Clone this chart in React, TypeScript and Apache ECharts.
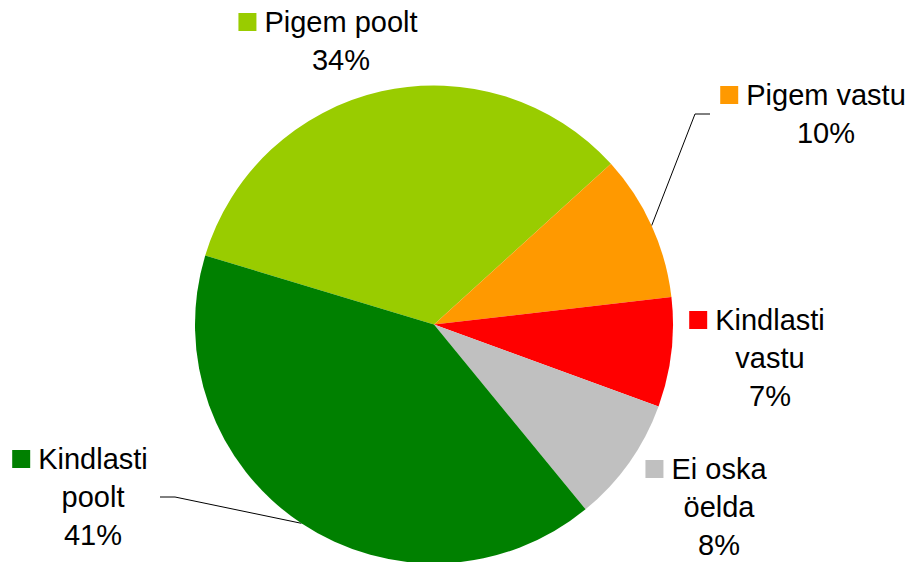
import { useEffect, useRef } from 'react';
import * as echarts from 'echarts';

const categories = ['Pigem poolt', 'Pigem vastu', 'Kindlasti vastu', 'Ei oska öelda', 'Kindlasti poolt'];
const labelLines = [['Pigem poolt'], ['Pigem vastu'], ['Kindlasti', 'vastu'], ['Ei oska', 'öelda'], ['Kindlasti', 'poolt']];
const values = [33.6, 9.9, 7.4, 8.5, 40.6];
const colors = ['#99CC00', '#FF9900', '#FF0000', '#C0C0C0', '#008000'];
const hasLeader = [false, true, false, false, true];

// label placement (style): text-block centre x, top y
const labelPos: number[][] = [[341, 3], [826, 76], [770, 301], [719, 450], [93, 440]];
// leader line bend / end offsets relative to label anchor
const leaderOffsets: Record<number, number[][]> = {
  1: [[-131, 38], [-116, 38]],
  4: [[82, 57], [67, 57]],
};

const FONT = 'Liberation Sans, Arial, sans-serif';

export default function App() {
  const ref = useRef<HTMLDivElement>(null);
  useEffect(() => {
    if (!ref.current) return;
    const chart = echarts.init(ref.current, null, { renderer: 'svg' });
    const rich: Record<string, any> = {
      t: { fontSize: 29, fontFamily: FONT, color: '#000', lineHeight: 38 },
      g: { width: 8, height: 18, lineHeight: 38 },
      sp: { width: 26, height: 18, lineHeight: 38 },
    };
    colors.forEach((c, i) => {
      rich['sq' + i] = { width: 18, height: 18, backgroundColor: c, lineHeight: 38 };
    });
    chart.setOption({
      animation: false,
      backgroundColor: '#ffffff',
      series: [
        {
          type: 'pie',
          center: [434, 324.5],
          radius: 239,
          startAngle: 163.2,
          clockwise: true,
          avoidLabelOverlap: false,
          percentPrecision: 0,
          emphasis: { disabled: true },
          itemStyle: { borderWidth: 0 },
          label: {
            show: true,
            position: 'outside',
            overflow: 'none',
            fontSize: 29,
            fontFamily: FONT,
            lineHeight: 38,
            color: '#000',
            align: 'center',
            formatter: (p: any) => {
              const i = p.dataIndex;
              const lines = labelLines[i];
              const first = `{sq${i}|}{g|}{t|${lines[0]}}{sp|}`;
              const rest = lines.slice(1).map((l) => `{t|${l}}`);
              return [first, ...rest, `{t|${p.percent}%}`].join('\n');
            },
            rich,
          },
          labelLine: {
            show: true,
            length: 10,
            length2: 10,
            smooth: false,
            lineStyle: { color: '#000', width: 1 },
          },
          labelLayout: (params: any) => {
            const i = params.dataIndex;
            const [x, y] = labelPos[i];
            const out: any = { x, y, align: 'center', verticalAlign: 'top' };
            const off = leaderOffsets[i];
            if (off && params.labelLinePoints) {
              const start = params.labelLinePoints[0];
              out.labelLinePoints = [
                start,
                [x + off[0][0], y + off[0][1]],
                [x + off[1][0], y + off[1][1]],
              ];
            }
            return out;
          },
          data: categories.map((name, i) => ({
            name,
            value: values[i],
            itemStyle: { color: colors[i] },
            labelLine: { show: hasLeader[i] },
          })),
        },
      ],
    });
    return () => chart.dispose();
  }, []);
  return (
    <div
      ref={ref}
      style={{ position: 'absolute', left: 0, top: 0, width: 909, height: 562, background: '#fff' }}
    />
  );
}
